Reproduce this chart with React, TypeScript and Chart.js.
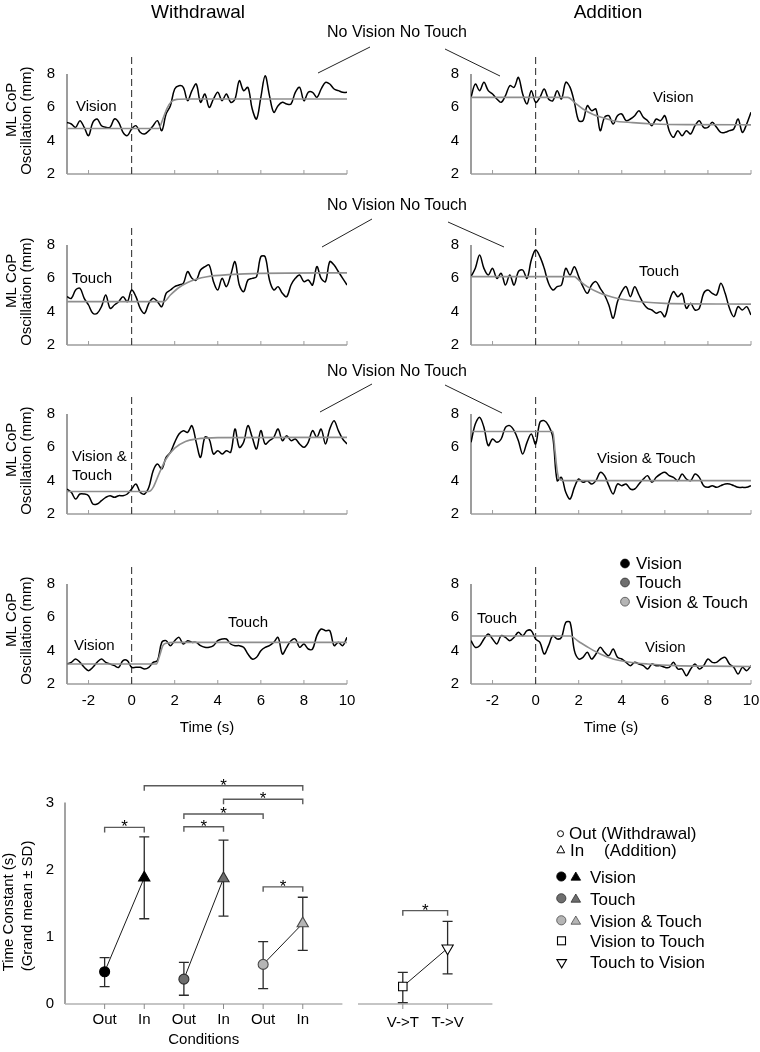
import React, { useEffect, useRef } from 'react';
import { Chart, registerables } from 'chart.js';

Chart.register(...registerables);

const FONT = "'Liberation Sans', Arial, Helvetica, sans-serif";
Chart.defaults.font.family = FONT;

// ---------- time-course panels ----------
const TIME_S = [-3, -2.8, -2.6, -2.4, -2.2, -2, -1.8, -1.6, -1.4, -1.2, -1, -0.8, -0.6, -0.4, -0.2, 0, 0.2, 0.4, 0.6, 0.8, 1, 1.2, 1.4, 1.6, 1.8, 2, 2.2, 2.4, 2.6, 2.8, 3, 3.2, 3.4, 3.6, 3.8, 4, 4.2, 4.4, 4.6, 4.8, 5, 5.2, 5.4, 5.6, 5.8, 6, 6.2, 6.4, 6.6, 6.8, 7, 7.2, 7.4, 7.6, 7.8, 8, 8.2, 8.4, 8.6, 8.8, 9, 9.2, 9.4, 9.6, 9.8, 10];
const TIME_TICKS = [-2, 0, 2, 4, 6, 8, 10];
const TIME_MIN = -3;
const TIME_MAX = 10;
const OSC_TICKS = [2, 4, 6, 8];
const OSC_MIN = 2;
const OSC_AXIS_MAX = 8;
const OSC_TOP = 9.2;
const ONSET_T = 0;

// Withdrawal: Vision -> No Vision No Touch
const W_VISION_OSC = [5.1, 5.0, 4.8, 5.2, 4.8, 4.3, 5.1, 5.3, 4.9, 4.8, 4.8, 5.3, 5.1, 4.5, 4.3, 4.7, 4.9, 4.5, 4.4, 4.6, 4.9, 5.2, 4.6, 5.6, 6.1, 7.1, 7.3, 7.2, 6.4, 7.0, 7.4, 6.3, 6.8, 6.0, 6.5, 6.9, 6.4, 6.8, 6.3, 6.5, 7.6, 7.0, 7.2, 5.9, 5.3, 6.6, 7.9, 6.7, 5.7, 6.1, 6.3, 6.2, 6.2, 6.9, 7.2, 6.4, 6.9, 6.9, 6.6, 7.1, 7.5, 7.4, 7.1, 7.0, 6.9, 6.9];
const W_VISION_FIT_T = [-3, 1.25, 1.45, 1.65, 1.85, 2.1, 2.6, 10];
const W_VISION_FIT_V = [4.73, 4.73, 5.3, 5.95, 6.35, 6.48, 6.5, 6.5];

// Addition: No Vision No Touch -> Vision
const A_VISION_OSC = [6.6, 7.4, 7.0, 7.5, 7.0, 6.8, 6.5, 6.3, 6.7, 7.3, 7.2, 7.8, 6.8, 6.2, 7.0, 6.3, 6.6, 7.1, 6.5, 6.4, 7.0, 6.5, 7.5, 7.2, 6.3, 5.2, 5.2, 6.1, 5.8, 5.9, 4.6, 5.4, 5.5, 5.0, 5.5, 5.6, 5.2, 5.3, 5.5, 5.8, 5.4, 5.2, 4.9, 5.3, 5.2, 5.5, 4.6, 4.2, 4.6, 4.3, 4.6, 4.4, 4.9, 5.2, 4.8, 4.8, 5.1, 4.8, 4.5, 4.5, 4.6, 4.7, 5.3, 4.5, 5.0, 5.7];
const A_VISION_FIT_T = [-3, 1.5, 1.8, 2.2, 2.7, 3.2, 3.6, 4.5, 5.5, 7, 10];
const A_VISION_FIT_V = [6.6, 6.6, 6.3, 5.9, 5.55, 5.35, 5.2, 5.08, 5.0, 4.96, 4.95];

// Withdrawal: Touch -> No Vision No Touch
const W_TOUCH_OSC = [4.9, 4.8, 5.3, 5.4, 4.8, 4.4, 3.9, 3.9, 4.3, 5.0, 4.2, 4.4, 4.6, 4.9, 4.6, 5.3, 4.9, 4.2, 3.9, 4.5, 4.8, 4.6, 4.3, 5.1, 5.3, 5.5, 5.6, 5.7, 6.4, 6.0, 5.9, 6.5, 6.7, 6.8, 5.8, 5.3, 6.0, 5.5, 6.2, 7.0, 5.6, 5.2, 5.9, 6.0, 6.1, 7.3, 7.3, 5.9, 5.3, 5.5, 5.1, 4.9, 5.6, 6.0, 6.2, 5.8, 5.9, 5.6, 6.7, 6.0, 5.8, 7.0, 6.8, 6.4, 6.0, 5.6];
const W_TOUCH_FIT_T = [-3, 1.5, 1.8, 2.2, 2.6, 3.0, 3.5, 4.5, 6, 10];
const W_TOUCH_FIT_V = [4.6, 4.6, 5.0, 5.45, 5.75, 5.95, 6.1, 6.22, 6.3, 6.33];

// Addition: No Vision No Touch -> Touch
const A_TOUCH_OSC = [6.1, 6.6, 7.4, 6.6, 6.2, 6.6, 6.0, 6.3, 5.6, 6.2, 5.6, 6.4, 6.5, 6.0, 7.1, 7.7, 7.3, 6.6, 5.7, 5.3, 5.5, 5.6, 6.6, 6.2, 6.7, 6.1, 5.5, 5.1, 5.6, 5.8, 5.4, 5.0, 4.4, 3.6, 4.6, 5.2, 5.5, 4.9, 5.5, 5.0, 4.5, 4.2, 4.1, 3.9, 4.0, 3.7, 4.6, 5.2, 4.9, 5.1, 4.2, 4.5, 4.1, 4.2, 5.1, 5.3, 5.1, 5.0, 5.7, 5.1, 4.2, 3.7, 4.3, 4.1, 4.3, 3.8];
const A_TOUCH_FIT_T = [-3, 1.8, 2.0, 2.4, 3.0, 3.5, 4.0, 5, 6, 10];
const A_TOUCH_FIT_V = [6.1, 6.1, 5.9, 5.5, 5.1, 4.9, 4.75, 4.58, 4.5, 4.45];

// Withdrawal: Vision & Touch -> No Vision No Touch
const W_VT_OSC = [3.5, 3.3, 2.9, 3.2, 3.2, 3.1, 2.6, 2.6, 2.8, 3.0, 3.1, 3.0, 3.1, 3.1, 3.2, 3.5, 3.8, 3.3, 3.2, 3.6, 4.6, 5.0, 4.7, 5.4, 5.7, 6.3, 6.8, 7.0, 6.9, 7.3, 6.3, 5.4, 6.6, 6.5, 5.6, 5.8, 5.6, 5.8, 5.7, 7.1, 6.0, 6.3, 7.3, 6.6, 5.9, 7.0, 6.2, 6.4, 6.6, 7.1, 6.4, 6.7, 6.4, 6.5, 6.2, 6.0, 6.3, 7.0, 6.6, 7.1, 6.2, 7.1, 7.6, 7.0, 6.5, 6.2];
const W_VT_FIT_T = [-3, 0.8, 1.0, 1.3, 1.6, 2.0, 2.5, 3.0, 4, 10];
const W_VT_FIT_V = [3.35, 3.35, 3.6, 4.5, 5.3, 5.95, 6.35, 6.5, 6.58, 6.6];

// Addition: No Vision No Touch -> Vision & Touch
const A_VT_OSC = [6.3, 7.4, 7.8, 7.2, 6.1, 6.5, 6.3, 6.5, 7.2, 7.3, 7.0, 6.4, 5.6, 6.3, 6.8, 6.2, 7.5, 7.6, 7.3, 6.6, 4.0, 4.2, 3.3, 2.9, 3.6, 4.1, 3.9, 4.0, 3.8, 4.0, 4.5, 4.3, 3.7, 3.2, 3.8, 3.7, 3.8, 3.5, 3.5, 3.8, 4.1, 4.3, 3.9, 4.2, 4.4, 4.5, 4.3, 4.2, 4.0, 4.4, 4.1, 4.0, 4.4, 4.2, 3.7, 3.6, 3.7, 3.6, 3.7, 3.8, 3.8, 3.7, 3.6, 3.6, 3.6, 3.7];
const A_VT_FIT_T = [-3, 0.8, 0.9, 1.0, 1.1, 1.3, 10];
const A_VT_FIT_V = [6.95, 6.95, 5.8, 4.6, 4.1, 4.0, 4.0];

// Vision -> Touch
const W_V2T_OSC = [3.2, 3.3, 3.5, 3.3, 3.0, 2.8, 3.0, 3.3, 3.5, 3.3, 3.2, 3.1, 3.0, 3.4, 3.4, 3.0, 3.0, 3.0, 2.9, 3.0, 3.3, 3.4, 4.5, 4.6, 4.3, 4.6, 4.8, 4.4, 4.6, 4.5, 4.5, 4.3, 4.2, 4.2, 4.3, 4.6, 4.7, 4.7, 4.4, 4.3, 4.3, 4.2, 3.8, 3.5, 3.6, 4.0, 4.2, 4.3, 4.5, 4.8, 3.8, 4.2, 4.6, 4.7, 4.2, 4.4, 4.1, 4.1, 4.9, 5.3, 5.2, 5.2, 4.3, 4.5, 4.3, 4.8];
const W_V2T_FIT_T = [-3, 1.15, 1.3, 1.45, 1.6, 2, 10];
const W_V2T_FIT_V = [3.2, 3.2, 3.7, 4.3, 4.45, 4.5, 4.5];

// Touch -> Vision
const A_T2V_OSC = [4.6, 4.2, 4.3, 4.7, 5.0, 4.7, 4.4, 4.9, 4.8, 4.6, 4.8, 5.1, 4.9, 5.2, 5.2, 4.7, 4.5, 3.8, 4.3, 4.9, 4.7, 4.8, 5.7, 5.7, 4.0, 3.5, 3.6, 3.9, 3.5, 3.8, 4.2, 3.9, 3.7, 4.1, 3.6, 3.5, 3.3, 3.1, 3.3, 3.2, 3.1, 2.9, 3.2, 3.1, 3.1, 3.0, 3.0, 3.3, 2.9, 2.9, 2.5, 2.9, 3.2, 2.9, 3.1, 3.5, 3.3, 3.3, 3.5, 3.6, 3.2, 3.0, 2.6, 3.0, 2.8, 3.1];
const A_T2V_FIT_T = [-3, 1.6, 2.0, 2.5, 3.0, 3.6, 4.3, 5.2, 6.5, 8, 10];
const A_T2V_FIT_V = [4.88, 4.88, 4.55, 4.15, 3.8, 3.5, 3.32, 3.2, 3.1, 3.07, 3.05];

// ---------- time constants ----------
const COND_LABELS = ['Out', 'In', 'Out', 'In', 'Out', 'In'];
const COND_POS = [0, 1, 2, 3, 4, 5];
const VISION_TC = [0.48, 1.88];
const VISION_LO = [0.26, 1.27];
const VISION_HI = [0.69, 2.49];
const TOUCH_TC = [0.37, 1.87];
const TOUCH_LO = [0.13, 1.31];
const TOUCH_HI = [0.62, 2.44];
const VT_TC = [0.59, 1.2];
const VT_LO = [0.23, 0.8];
const VT_HI = [0.93, 1.59];
const TRANS_LABELS = ['V->T', 'T->V'];
const TRANS_POS = [0, 1];
const TRANS_TC = [0.26, 0.83];
const TRANS_LO = [0.02, 0.45];
const TRANS_HI = [0.47, 1.23];
const TC_TICKS = [0, 1, 2, 3];
const TC_AXIS_MAX = 3;
const TC_TOP = 3.5;
// significance brackets: [from, to, level]
const SIG_FROM = [0, 1, 3, 2, 2, 4];
const SIG_TO = [1, 5, 5, 4, 3, 5];
const SIG_LEVEL = [2.63, 3.25, 3.05, 2.83, 2.64, 1.745];
const TRANS_SIG_FROM = [0];
const TRANS_SIG_TO = [1];
const TRANS_SIG_LEVEL = [1.39];

// ---------- layout ----------
const PAD_TOP = 6;
const COLS = [
  { left: 0, width: 355, yAxisW: 67, padRight: 8, yTitle: true },
  { left: 426, width: 334, yAxisW: 45, padRight: 9, yTitle: false },
];
const ROWS = [
  { top: 48, xAxisH: 8, showX: false },
  { top: 219, xAxisH: 8, showX: false },
  { top: 388, xAxisH: 8, showX: false },
  { top: 558, xAxisH: 56, showX: true },
];
const PLOT_H = 120;

const PANELS = [
  { id: 'wv', col: 0, row: 0, trace: W_VISION_OSC, fitT: W_VISION_FIT_T, fitV: W_VISION_FIT_V },
  { id: 'av', col: 1, row: 0, trace: A_VISION_OSC, fitT: A_VISION_FIT_T, fitV: A_VISION_FIT_V },
  { id: 'wt', col: 0, row: 1, trace: W_TOUCH_OSC, fitT: W_TOUCH_FIT_T, fitV: W_TOUCH_FIT_V },
  { id: 'at', col: 1, row: 1, trace: A_TOUCH_OSC, fitT: A_TOUCH_FIT_T, fitV: A_TOUCH_FIT_V },
  { id: 'wvt', col: 0, row: 2, trace: W_VT_OSC, fitT: W_VT_FIT_T, fitV: W_VT_FIT_V },
  { id: 'avt', col: 1, row: 2, trace: A_VT_OSC, fitT: A_VT_FIT_T, fitV: A_VT_FIT_V },
  { id: 'v2t', col: 0, row: 3, trace: W_V2T_OSC, fitT: W_V2T_FIT_T, fitV: W_V2T_FIT_V },
  { id: 't2v', col: 1, row: 3, trace: A_T2V_OSC, fitT: A_T2V_FIT_T, fitV: A_T2V_FIT_V },
];

const tickFont = { family: FONT, size: 15 };

function zeroPad(s: any) {
  s.paddingLeft = 0;
  s.paddingRight = 0;
  s.paddingTop = 0;
  s.paddingBottom = 0;
}

function panelFrame() {
  return {
    id: 'panelFrame',
    beforeDatasetsDraw(chart: any) {
      const { ctx } = chart;
      const xs = chart.scales.x;
      const ys = chart.scales.y;
      const x0 = xs.getPixelForValue(TIME_MIN);
      const x1 = xs.getPixelForValue(TIME_MAX);
      const yb = ys.getPixelForValue(OSC_MIN);
      const yt = ys.getPixelForValue(OSC_AXIS_MAX);
      ctx.save();
      ctx.lineWidth = 1.5;
      ctx.strokeStyle = '#7c7c7c';
      ctx.beginPath();
      ctx.moveTo(x0, yt);
      ctx.lineTo(x0, yb);
      ctx.stroke();
      ctx.strokeStyle = '#9c9c9c';
      ctx.beginPath();
      ctx.moveTo(x0, yb);
      ctx.lineTo(x1, yb);
      ctx.stroke();
      ctx.lineWidth = 1;
      xs.ticks.forEach((t: any) => {
        const px = xs.getPixelForValue(t.value);
        ctx.beginPath();
        ctx.moveTo(px, yb);
        ctx.lineTo(px, yb - 4);
        ctx.stroke();
      });
      ctx.restore();
    },
  };
}

function yTitlePlugin(lines: string[], xs: number[], centers: number[], size: number) {
  return {
    id: 'yTitle',
    afterDraw(chart: any) {
      const { ctx } = chart;
      const ys = chart.scales.y;
      ctx.save();
      ctx.font = `${size}px ${FONT}`;
      ctx.fillStyle = '#000';
      ctx.textAlign = 'center';
      ctx.textBaseline = 'middle';
      lines.forEach((t, i) => {
        ctx.save();
        ctx.translate(xs[i], ys.getPixelForValue(centers[i]));
        ctx.rotate(-Math.PI / 2);
        ctx.fillText(t, 0, 0);
        ctx.restore();
      });
      ctx.restore();
    },
  };
}

function buildPanel(canvas: HTMLCanvasElement, p: any) {
  const col = COLS[p.col];
  const row = ROWS[p.row];
  const traceData = TIME_S.map((t, i) => ({ x: t, y: p.trace[i] }));
  const fitData = p.fitT.map((t: number, i: number) => ({ x: t, y: p.fitV[i] }));
  const onsetData = [{ x: ONSET_T, y: OSC_MIN }, { x: ONSET_T, y: OSC_TOP }];
  const plugins: any[] = [panelFrame()];
  if (col.yTitle) plugins.push(yTitlePlugin(['ML CoP', 'Oscillation (mm)'], [12, 27], [5.85, 5.2], 15));
  return new Chart(canvas, {
    type: 'line',
    data: {
      datasets: [
        { data: fitData, borderColor: '#8e8e8e', borderWidth: 1.6, pointRadius: 0, cubicInterpolationMode: 'monotone', fill: false },
        { data: traceData, borderColor: '#000', borderWidth: 1.5, pointRadius: 0, tension: 0.35, fill: false },
        { data: onsetData, borderColor: '#3a3a3a', borderWidth: 1.1, borderDash: [7, 4], pointRadius: 0, fill: false },
      ],
    } as any,
    options: {
      animation: false,
      responsive: false,
      maintainAspectRatio: false,
      events: [],
      layout: { padding: { top: PAD_TOP, right: col.padRight, left: 0, bottom: 0 } },
      plugins: { legend: { display: false }, tooltip: { enabled: false } },
      scales: {
        x: {
          type: 'linear',
          min: TIME_MIN,
          max: TIME_MAX,
          grid: { display: false, drawTicks: false },
          border: { display: false },
          afterBuildTicks: (s: any) => { s.ticks = TIME_TICKS.map((v) => ({ value: v })); },
          afterFit: (s: any) => { s.height = row.xAxisH; zeroPad(s); },
          ticks: { display: row.showX, font: tickFont, color: '#000', padding: 8, maxRotation: 0, autoSkip: false },
          title: { display: row.showX, text: 'Time (s)', font: tickFont, color: '#000', padding: { top: 0, bottom: 3 } },
        },
        y: {
          type: 'linear',
          min: OSC_MIN,
          max: OSC_TOP,
          grid: { display: false, drawTicks: false },
          border: { display: false },
          afterBuildTicks: (s: any) => { s.ticks = OSC_TICKS.map((v) => ({ value: v })); },
          afterFit: (s: any) => { s.width = col.yAxisW; zeroPad(s); },
          ticks: { font: tickFont, color: '#000', padding: 12 },
        },
      },
    } as any,
    plugins,
  });
}

function tcFrame(showY: boolean) {
  return {
    id: 'tcFrame',
    beforeDatasetsDraw(chart: any) {
      const { ctx, chartArea } = chart;
      const xs = chart.scales.x;
      const ys = chart.scales.y;
      const y0 = ys.getPixelForValue(0);
      const y3 = ys.getPixelForValue(TC_AXIS_MAX);
      ctx.save();
      if (showY) {
        ctx.strokeStyle = '#858585';
        ctx.lineWidth = 1.5;
        ctx.beginPath();
        ctx.moveTo(chartArea.left, y3);
        ctx.lineTo(chartArea.left, y0);
        ctx.stroke();
      }
      ctx.strokeStyle = '#b2b2b2';
      ctx.lineWidth = 1.5;
      ctx.beginPath();
      ctx.moveTo(chartArea.left, y0);
      ctx.lineTo(chartArea.right, y0);
      ctx.stroke();
      ctx.lineWidth = 1;
      ctx.strokeStyle = '#8a8a8a';
      xs.ticks.forEach((t: any) => {
        const px = xs.getPixelForValue(t.value);
        ctx.beginPath();
        ctx.moveTo(px, y0);
        ctx.lineTo(px, y0 + 5);
        ctx.stroke();
      });
      ctx.restore();
    },
  };
}

function errorSigPlugin(xsPos: number[], lo: number[], hi: number[], sFrom: number[], sTo: number[], sLevel: number[]) {
  return {
    id: 'errorSig',
    beforeDatasetsDraw(chart: any) {
      const { ctx } = chart;
      const xs = chart.scales.x;
      const ys = chart.scales.y;
      ctx.save();
      ctx.strokeStyle = '#2a2a2a';
      ctx.lineWidth = 1.3;
      xsPos.forEach((xv, i) => {
        const px = xs.getPixelForValue(xv);
        const pl = ys.getPixelForValue(lo[i]);
        const ph = ys.getPixelForValue(hi[i]);
        ctx.beginPath();
        ctx.moveTo(px, pl);
        ctx.lineTo(px, ph);
        ctx.moveTo(px - 5, pl);
        ctx.lineTo(px + 5, pl);
        ctx.moveTo(px - 5, ph);
        ctx.lineTo(px + 5, ph);
        ctx.stroke();
      });
      ctx.strokeStyle = '#5a5a5a';
      ctx.lineWidth = 1.4;
      ctx.fillStyle = '#000';
      ctx.font = `17px ${FONT}`;
      ctx.textAlign = 'center';
      ctx.textBaseline = 'alphabetic';
      sFrom.forEach((f, i) => {
        const a = xs.getPixelForValue(f);
        const b = xs.getPixelForValue(sTo[i]);
        const yy = ys.getPixelForValue(sLevel[i]);
        ctx.beginPath();
        ctx.moveTo(a, yy + 5);
        ctx.lineTo(a, yy);
        ctx.lineTo(b, yy);
        ctx.lineTo(b, yy + 5);
        ctx.stroke();
        ctx.fillText('*', (a + b) / 2, yy + 5);
      });
      ctx.restore();
    },
  };
}

function tcScales(labels: string[], positions: number[], xMin: number, xMax: number, showY: boolean, labelPad: number, title: string | null) {
  return {
    x: {
      type: 'linear',
      min: xMin,
      max: xMax,
      grid: { display: false, drawTicks: false },
      border: { display: false },
      afterBuildTicks: (s: any) => { s.ticks = positions.map((v) => ({ value: v })); },
      afterFit: (s: any) => { s.height = 48; zeroPad(s); },
      ticks: { font: tickFont, color: '#000', padding: labelPad, maxRotation: 0, autoSkip: false, callback: (_v: any, i: number) => labels[i] },
      title: { display: !!title, text: title || '', font: tickFont, color: '#000', padding: { top: 0, bottom: 3 } },
    },
    y: {
      type: 'linear',
      display: showY,
      min: 0,
      max: TC_TOP,
      grid: { display: false, drawTicks: false },
      border: { display: false },
      afterBuildTicks: (s: any) => { s.ticks = TC_TICKS.map((v) => ({ value: v })); },
      afterFit: (s: any) => { s.width = showY ? 65 : 0; zeroPad(s); },
      ticks: { font: tickFont, color: '#000', padding: 11 },
    },
  };
}

function pairDataset(xsPos: number[], vals: number[], fill: string, edge: string, styles: string[], radii: number[], rot: number[]) {
  return {
    data: vals.map((v, i) => ({ x: xsPos[i], y: v })),
    showLine: true,
    borderColor: '#1a1a1a',
    borderWidth: 1,
    pointStyle: styles,
    pointRadius: radii,
    pointRotation: rot,
    pointBackgroundColor: fill,
    pointBorderColor: edge,
    pointBorderWidth: 1.1,
  };
}

function buildConditions(canvas: HTMLCanvasElement) {
  const cs = ['circle', 'triangle'];
  const rr = [5, 6.5];
  const rot = [0, 0];
  const lo = [...VISION_LO, ...TOUCH_LO, ...VT_LO];
  const hi = [...VISION_HI, ...TOUCH_HI, ...VT_HI];
  return new Chart(canvas, {
    type: 'scatter',
    data: {
      datasets: [
        pairDataset(COND_POS.slice(0, 2), VISION_TC, '#000', '#000', cs, rr, rot),
        pairDataset(COND_POS.slice(2, 4), TOUCH_TC, '#6e6e6e', '#2e2e2e', cs, rr, rot),
        pairDataset(COND_POS.slice(4, 6), VT_TC, '#b5b5b5', '#4a4a4a', cs, rr, rot),
      ],
    } as any,
    options: {
      animation: false,
      responsive: false,
      maintainAspectRatio: false,
      events: [],
      layout: { padding: { top: 9, right: 7, left: 0, bottom: 0 } },
      plugins: { legend: { display: false }, tooltip: { enabled: false } },
      scales: tcScales(COND_LABELS, COND_POS, -1, 6, true, 7, 'Conditions'),
    } as any,
    plugins: [
      tcFrame(true),
      errorSigPlugin(COND_POS, lo, hi, SIG_FROM, SIG_TO, SIG_LEVEL),
      yTitlePlugin(['Time Constant (s)', '(Grand mean \u00b1 SD)'], [9, 28], [1.37, 1.46], 15),
    ],
  });
}

function buildTransitions(canvas: HTMLCanvasElement) {
  return new Chart(canvas, {
    type: 'scatter',
    data: {
      datasets: [
        pairDataset(TRANS_POS, TRANS_TC, '#fff', '#000', ['rect', 'triangle'], [6, 6.5], [0, 180]),
      ],
    } as any,
    options: {
      animation: false,
      responsive: false,
      maintainAspectRatio: false,
      events: [],
      layout: { padding: { top: 9, right: 3, left: 8, bottom: 0 } },
      plugins: { legend: { display: false }, tooltip: { enabled: false } },
      scales: tcScales(TRANS_LABELS, TRANS_POS, -1, 2, false, 10, null),
    } as any,
    plugins: [tcFrame(false), errorSigPlugin(TRANS_POS, TRANS_LO, TRANS_HI, TRANS_SIG_FROM, TRANS_SIG_TO, TRANS_SIG_LEVEL)],
  });
}

function ChartCanvas(props: { left: number; top: number; width: number; height: number; build: (c: HTMLCanvasElement) => Chart }) {
  const ref = useRef<HTMLCanvasElement>(null);
  useEffect(() => {
    const chart = props.build(ref.current as HTMLCanvasElement);
    return () => chart.destroy();
  }, []);
  return (
    <canvas
      ref={ref}
      width={props.width}
      height={props.height}
      style={{ position: 'absolute', left: props.left, top: props.top, width: props.width, height: props.height }}
    />
  );
}

const TEXTS: { t: string; x: number; y: number; s?: number; c?: boolean }[] = [
  { t: 'Withdrawal', x: 198, y: 11, s: 19, c: true },
  { t: 'Addition', x: 608, y: 11, s: 19, c: true },
  { t: 'No Vision No Touch', x: 397, y: 32, s: 16, c: true },
  { t: 'No Vision No Touch', x: 397, y: 205, s: 16, c: true },
  { t: 'No Vision No Touch', x: 397, y: 371, s: 16, c: true },
  { t: 'Vision', x: 76, y: 105 },
  { t: 'Vision', x: 653, y: 96 },
  { t: 'Touch', x: 72, y: 277 },
  { t: 'Touch', x: 639, y: 270 },
  { t: 'Vision &', x: 72, y: 455 },
  { t: 'Touch', x: 72, y: 474 },
  { t: 'Vision & Touch', x: 597, y: 457 },
  { t: 'Vision', x: 74, y: 644 },
  { t: 'Touch', x: 228, y: 621 },
  { t: 'Touch', x: 477, y: 617 },
  { t: 'Vision', x: 645, y: 646 },
  { t: 'Vision', x: 636, y: 563, s: 17 },
  { t: 'Touch', x: 636, y: 582, s: 17 },
  { t: 'Vision & Touch', x: 636, y: 602, s: 17 },
  { t: 'Out (Withdrawal)', x: 569, y: 833, s: 17 },
  { t: 'In', x: 570, y: 850, s: 17 },
  { t: '(Addition)', x: 604, y: 850, s: 17 },
  { t: 'Vision', x: 590, y: 877, s: 17 },
  { t: 'Touch', x: 590, y: 899, s: 17 },
  { t: 'Vision & Touch', x: 590, y: 921, s: 17 },
  { t: 'Vision to Touch', x: 590, y: 941, s: 17 },
  { t: 'Touch to Vision', x: 590, y: 962, s: 17 },
];

const CONNECTORS = [
  [318, 73, 370, 47],
  [445, 49, 500, 76],
  [322, 247, 372, 219],
  [448, 222, 504, 247],
  [320, 412, 372, 384],
  [445, 385, 502, 413],
];

export default function App() {
  return (
    <div style={{ position: 'absolute', left: 0, top: 0, width: 760, height: 1052, overflow: 'hidden', background: '#fff', fontFamily: FONT }}>
      {PANELS.map((p) => {
        const col = COLS[p.col];
        const row = ROWS[p.row];
        return (
          <ChartCanvas
            key={p.id}
            left={col.left}
            top={row.top}
            width={col.width}
            height={PAD_TOP + PLOT_H + row.xAxisH}
            build={(c) => buildPanel(c, p)}
          />
        );
      })}
      <ChartCanvas left={0} top={760} width={350} height={292} build={buildConditions} />
      <ChartCanvas left={350} top={760} width={150} height={292} build={buildTransitions} />
      <svg width={760} height={1052} style={{ position: 'absolute', left: 0, top: 0, pointerEvents: 'none' }}>
        {CONNECTORS.map((l, i) => (
          <line key={i} x1={l[0]} y1={l[1]} x2={l[2]} y2={l[3]} stroke="#222" strokeWidth={1} />
        ))}
        <circle cx={625} cy={563.5} r={4.4} fill="#000" stroke="#000" strokeWidth={0.8} />
        <circle cx={625} cy={582.5} r={4.4} fill="#6e6e6e" stroke="#2e2e2e" strokeWidth={0.8} />
        <circle cx={625} cy={601.7} r={4.4} fill="#b5b5b5" stroke="#4a4a4a" strokeWidth={0.8} />
        <circle cx={560.5} cy={833.7} r={3} fill="#fff" stroke="#000" strokeWidth={1} />
        <polygon points="560.8,845.5 556.9,852.8 564.7,852.8" fill="#fff" stroke="#000" strokeWidth={1} />
        <circle cx={561.3} cy={876.5} r={4.6} fill="#000" stroke="#000" strokeWidth={0.8} />
        <polygon points="575.8,872 571,880.2 580.6,880.2" fill="#000" stroke="#000" strokeWidth={0.8} />
        <circle cx={561.3} cy={898.3} r={4.6} fill="#6e6e6e" stroke="#2e2e2e" strokeWidth={0.8} />
        <polygon points="575.8,894 571,902.2 580.6,902.2" fill="#6e6e6e" stroke="#2e2e2e" strokeWidth={0.8} />
        <circle cx={561.3} cy={920.3} r={4.6} fill="#b5b5b5" stroke="#4a4a4a" strokeWidth={0.8} />
        <polygon points="575.8,916 571,924.2 580.6,924.2" fill="#b5b5b5" stroke="#4a4a4a" strokeWidth={0.8} />
        <rect x={557.5} y={936.8} width={8} height={8} fill="#fff" stroke="#000" strokeWidth={1.1} />
        <polygon points="556.9,959.6 566.5,959.6 561.7,967.8" fill="#fff" stroke="#000" strokeWidth={1.1} />
      </svg>
      {TEXTS.map((d, i) => (
        <div
          key={i}
          style={{
            position: 'absolute',
            left: d.x,
            top: d.y,
            transform: d.c ? 'translate(-50%, -50%)' : 'translateY(-50%)',
            fontSize: d.s || 15,
            lineHeight: 1,
            whiteSpace: 'nowrap',
            color: '#000',
            fontFamily: FONT,
          }}
        >
          {d.t}
        </div>
      ))}
    </div>
  );
}
